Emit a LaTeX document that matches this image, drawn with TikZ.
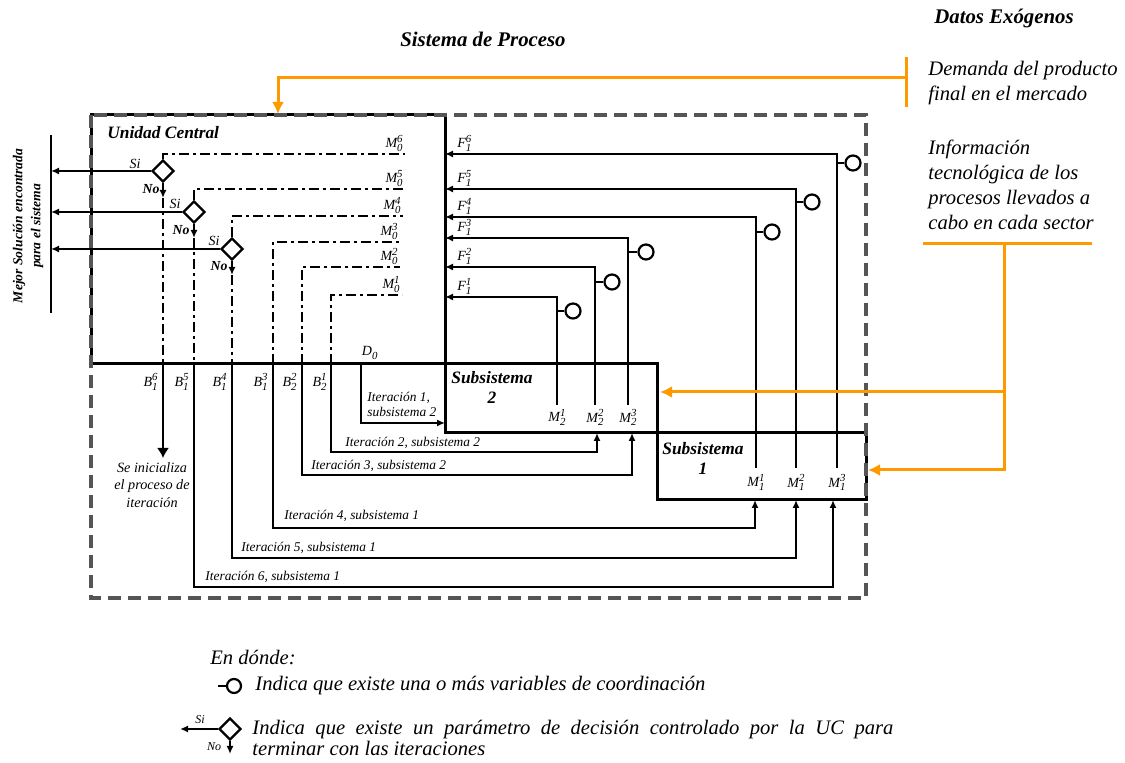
\documentclass[tikz,border=0pt]{standalone}
\usepackage{fontspec}
\setmainfont{Liberation Serif}
\usetikzlibrary{arrows.meta, calc, shapes.geometric}

\definecolor{exoorange}{RGB}{255,153,0}
\definecolor{framegray}{RGB}{85,85,85}

\newcommand{\idx}{\fontsize{5.4}{6}\selectfont}
\newcommand{\vsym}[3]{#1\makebox[0pt][l]{\raisebox{-0.6ex}{\idx #2}}\raisebox{0.85ex}{\idx #3}}

\tikzset{
  box/.style={line width=1.5pt, line cap=rect},
  link/.style={line width=0.9pt},
  feed/.style={line width=0.9pt, -{Latex[length=4pt,width=3.5pt]}},
  mline/.style={line width=0.9pt, dash pattern=on 5pt off 2pt on 1.5pt off 2pt},
  frame/.style={line width=1.7pt, draw=framegray, dash pattern=on 6.5pt off 3.5pt},
  exoline/.style={line width=1.5pt, draw=exoorange},
  exo/.style={exoline, -{Latex[length=6pt,width=6pt]}},
  decision/.style={diamond, draw, line width=1.2pt, inner sep=0pt, minimum size=11pt, aspect=1},
  coordvar/.style={circle, draw, line width=1.1pt, inner sep=0pt, minimum size=7.5pt},
  title/.style={font=\fontsize{10.4}{12}\selectfont\bfseries\itshape, inner sep=0pt},
  unit/.style={font=\fontsize{8.7}{10}\selectfont\bfseries\itshape, inner sep=0pt, align=center},
  note/.style={font=\fontsize{10.3}{12.5}\selectfont\itshape, inner sep=0pt, align=left},
  lbl/.style={font=\fontsize{6.7}{7.5}\selectfont\itshape, inner sep=0pt},
  var/.style={font=\fontsize{7}{8}\selectfont\itshape, inner sep=1pt},
}

\begin{document}
\begin{tikzpicture}[x=0.5pt, y=-0.5pt]
  \useasboundingbox (0,0) rectangle (1125,763);

  % Titles
  \node[title] (sysTitle) at (483,39) {Sistema de Proceso};
  \node[title] (exoTitle) at (1004,18) {Datos Exógenos};

  % Exogenous data
  \node[note, anchor=west] (demand) at (928,83) {Demanda del producto\\final en el mercado};
  \node[note, anchor=west] (techInfo) at (928,185) {Información\\tecnológica de los\\procesos llevados a\\cabo en cada sector};

  % Boxes
  \coordinate (ucNW) at (91,115);
  \coordinate (ucNE) at (445,115);
  \coordinate (ucSW) at (91,364);
  \coordinate (sTwoNE) at (657,364);
  \coordinate (sTwoSW) at (445,433);
  \coordinate (sTwoSE) at (657,433);
  \coordinate (sOneNE) at (866,433);
  \coordinate (sOneSE) at (866,500);
  \coordinate (sOneSW) at (657,500);
  \coordinate (frameSE) at (866,598);
  \draw[box] (ucSW) -- (ucNW) -- (ucNE) -- (sTwoSW) -- (sTwoSE);
  \draw[box] (ucSW) -- (sTwoNE) -- (sTwoSE) -- (sOneNE) -- (sOneSE) -- (sOneSW) -- (sTwoSE);
  \draw[frame] (ucNW) rectangle (frameSE);

  \node[unit, anchor=west] (ucTitle) at (107,133) {Unidad Central};
  \node[unit] (sTwoTitle) at (492,387) {Subsistema\\2};
  \node[unit] (sOneTitle) at (703,458) {Subsistema\\1};

  % Decisions of the central unit
  \node[decision] (dec6) at (163,171) {};
  \node[decision] (dec5) at (194,212) {};
  \node[decision] (dec4) at (232,249) {};

  \coordinate (barTop) at (51,135);
  \coordinate (barBot) at (51,313);
  \draw[link] (barTop) -- (barBot);
  \node[unit, rotate=90, font=\fontsize{6.8}{9}\selectfont\bfseries\itshape] (best) at (28,226) {Mejor Solución encontrada\\para el sistema};

  \draw[feed] (dec6.west) -- (dec6.west -| barTop);
  \draw[feed] (dec5.west) -- (dec5.west -| barTop);
  \draw[feed] (dec4.west) -- (dec4.west -| barTop);
  \node[lbl, font=\fontsize{7}{8}\selectfont\itshape] (si6) at (135,164) {Si};
  \node[lbl, font=\fontsize{7}{8}\selectfont\itshape] (si5) at (175,204) {Si};
  \node[lbl, font=\fontsize{7}{8}\selectfont\itshape] (si4) at (214,241) {Si};
  \node[lbl, font=\fontsize{6.9}{8}\selectfont\bfseries\itshape] (no6) at (151,189) {No};
  \node[lbl, font=\fontsize{6.9}{8}\selectfont\bfseries\itshape] (no5) at (181,230) {No};
  \node[lbl, font=\fontsize{6.9}{8}\selectfont\bfseries\itshape] (no4) at (219,266) {No};

  \coordinate (noEnd6) at (163,198);
  \coordinate (noEnd5) at (194,238);
  \coordinate (noEnd4) at (232,275);
  \draw[feed] (dec6.south) -- (noEnd6);
  \draw[feed] (dec5.south) -- (noEnd5);
  \draw[feed] (dec4.south) -- (noEnd4);

  % Coordination lines M0
  \coordinate (b16) at (163,364);
  \coordinate (b15) at (194,364);
  \coordinate (b14) at (232,364);
  \coordinate (b13) at (273,364);
  \coordinate (b22) at (302,364);
  \coordinate (b21) at (331,364);
  \coordinate (dzero) at (361,364);
  \coordinate (m06) at (405,154);
  \coordinate (m05) at (405,189);
  \coordinate (m04) at (403,216);
  \coordinate (m03) at (400,242);
  \coordinate (m02) at (400,267);
  \coordinate (m01) at (402,295);
  \draw[mline] (dec6.north) |- (m06);
  \draw[mline] (dec5.north) |- (m05);
  \draw[mline] (dec4.north) |- (m04);
  \draw[mline] (b13) |- (m03);
  \draw[mline] (b22) |- (m02);
  \draw[mline] (b21) |- (m01);
  \draw[mline] (noEnd6) -- (b16);
  \draw[mline] (noEnd5) -- (b15);
  \draw[mline] (noEnd4) -- (b14);
  \node[var, anchor=south east] (m06l) at (m06) {\vsym{M}{0}{6}};
  \node[var, anchor=south east] (m05l) at (m05) {\vsym{M}{0}{5}};
  \node[var, anchor=south east] (m04l) at (m04) {\vsym{M}{0}{4}};
  \node[var, anchor=south east] (m03l) at (m03) {\vsym{M}{0}{3}};
  \node[var, anchor=south east] (m02l) at (m02) {\vsym{M}{0}{2}};
  \node[var, anchor=south east] (m01l) at (m01) {\vsym{M}{0}{1}};

  % Feedback F1 from the subsystems
  \coordinate (f16) at (445,154);
  \coordinate (f15) at (445,189);
  \coordinate (f14) at (445,217);
  \coordinate (f13) at (445,238);
  \coordinate (f12) at (445,267);
  \coordinate (f11) at (445,297);
  \coordinate (m13) at (837,468);
  \coordinate (m12) at (796,468);
  \coordinate (m11) at (756,468);
  \coordinate (m23) at (628,405);
  \coordinate (m22) at (595,405);
  \coordinate (m21) at (557,405);
  \draw[feed] (m13) |- (f16);
  \draw[feed] (m12) |- (f15);
  \draw[feed] (m11) |- (f14);
  \draw[feed] (m23) |- (f13);
  \draw[feed] (m22) |- (f12);
  \draw[feed] (m21) |- (f11);
  \node[var, anchor=south west, xshift=5pt] (f16l) at (f16) {\vsym{F}{1}{6}};
  \node[var, anchor=south west, xshift=5pt] (f15l) at (f15) {\vsym{F}{1}{5}};
  \node[var, anchor=south west, xshift=5pt] (f14l) at (f14) {\vsym{F}{1}{4}};
  \node[var, anchor=south west, xshift=5pt] (f13l) at (f13) {\vsym{F}{1}{3}};
  \node[var, anchor=south west, xshift=5pt] (f12l) at (f12) {\vsym{F}{1}{2}};
  \node[var, anchor=south west, xshift=5pt] (f11l) at (f11) {\vsym{F}{1}{1}};

  \node[coordvar] (cv6) at (853,163) {};
  \node[coordvar] (cv5) at (812,202) {};
  \node[coordvar] (cv4) at (772,232) {};
  \node[coordvar] (cv3) at (646,252) {};
  \node[coordvar] (cv2) at (612,282) {};
  \node[coordvar] (cv1) at (573,311) {};
  \draw[link] (cv6.west) -- (cv6.west -| m13);
  \draw[link] (cv5.west) -- (cv5.west -| m12);
  \draw[link] (cv4.west) -- (cv4.west -| m11);
  \draw[link] (cv3.west) -- (cv3.west -| m23);
  \draw[link] (cv2.west) -- (cv2.west -| m22);
  \draw[link] (cv1.west) -- (cv1.west -| m21);

  \node[var, anchor=north, yshift=-2pt] (m13l) at (m13) {\vsym{M}{1}{3}};
  \node[var, anchor=north, yshift=-2pt] (m12l) at (m12) {\vsym{M}{1}{2}};
  \node[var, anchor=north, yshift=-2pt] (m11l) at (m11) {\vsym{M}{1}{1}};
  \node[var, anchor=north, yshift=-1pt] (m23l) at (m23) {\vsym{M}{2}{3}};
  \node[var, anchor=north, yshift=-1pt] (m22l) at (m22) {\vsym{M}{2}{2}};
  \node[var, anchor=north, yshift=-1pt] (m21l) at (m21) {\vsym{M}{2}{1}};

  % Iterations
  \coordinate (startEnd) at (163,458);
  \draw[line width=0.9pt, -{Latex[length=5pt,width=6pt]}] (b16) -- (startEnd);
  \node[lbl, align=center, font=\fontsize{7.1}{8.6}\selectfont\itshape] (startl) at (152,485) {Se inicializa\\el proceso de\\iteración};

  \coordinate (sTwoIn) at (445,423);
  \coordinate (it2) at (597,452);
  \coordinate (it3) at (632,475);
  \coordinate (it4) at (755,528);
  \coordinate (it5) at (796,558);
  \coordinate (it6) at (833,587);
  \coordinate (m22in) at (597,433);
  \coordinate (m23in) at (632,433);
  \coordinate (m11in) at (755,500);
  \coordinate (m12in) at (796,500);
  \coordinate (m13in) at (833,500);
  \draw[feed] (dzero) |- (sTwoIn);
  \draw[feed] (b21) |- (it2) -- (m22in);
  \draw[feed] (b22) |- (it3) -- (m23in);
  \draw[feed] (b13) |- (it4) -- (m11in);
  \draw[feed] (b14) |- (it5) -- (m12in);
  \draw[feed] (b15) |- (it6) -- (m13in);

  \node[lbl, anchor=west, align=left] (it1l) at (367,404) {Iteración 1,\\subsistema 2};
  \node[lbl, anchor=west] (it2l) at (345,443) {Iteración 2, subsistema 2};
  \node[lbl, anchor=west] (it3l) at (311,466) {Iteración 3, subsistema 2};
  \node[lbl, anchor=west] (it4l) at (284,516) {Iteración 4, subsistema 1};
  \node[lbl, anchor=west] (it5l) at (241,548) {Iteración 5, subsistema 1};
  \node[lbl, anchor=west] (it6l) at (205,577) {Iteración 6, subsistema 1};

  \node[var, anchor=east] (b16l) at (160,382) {\vsym{B}{1}{6}};
  \node[var, anchor=east] (b15l) at (191,382) {\vsym{B}{1}{5}};
  \node[var, anchor=east] (b14l) at (229,382) {\vsym{B}{1}{4}};
  \node[var, anchor=east] (b13l) at (270,382) {\vsym{B}{1}{3}};
  \node[var, anchor=east] (b22l) at (299,382) {\vsym{B}{2}{2}};
  \node[var, anchor=east] (b21l) at (329,382) {\vsym{B}{2}{1}};
  \node[var] (d0l) at (367,353) {\vsym{D}{0}{}};

  % Exogenous arrows
  \coordinate (tickTop) at (906,57);
  \coordinate (tickBot) at (906,107);
  \coordinate (demandFeed) at (906,78);
  \coordinate (ucIn) at (278,114);
  \draw[exoline] (tickTop) -- (tickBot);
  \draw[exo] (demandFeed) -| (ucIn);
  \coordinate (barL) at (923,244);
  \coordinate (barR) at (1092,244);
  \coordinate (techFeed) at (1004,244);
  \coordinate (sTwoRight) at (660,392);
  \coordinate (sOneRight) at (868,470);
  \draw[exoline] (barL) -- (barR);
  \draw[exo] (techFeed) |- (sOneRight);
  \draw[exo] (techFeed |- sTwoRight) -- (sTwoRight);

  % Legend
  \node[note, anchor=west] (where) at (210,657) {En dónde:};
  \coordinate (legStub) at (218,686);
  \node[coordvar, minimum size=7pt] (legCirc) at (234,686) {};
  \draw[link, line width=1.1pt] (legStub) -- (legCirc.west);
  \node[note, anchor=west] (legCircText) at (255,686) {Indica que existe una o más variables de coordinación};
  \node[decision] (legDec) at (230,729) {};
  \coordinate (legSi) at (180,729);
  \coordinate (legNo) at (230,754);
  \draw[feed] (legDec.west) -- (legSi);
  \draw[feed] (legDec.south) -- (legNo);
  \node[lbl, font=\fontsize{6}{7}\selectfont\itshape] (legSil) at (200,720) {Si};
  \node[lbl, font=\fontsize{6}{7}\selectfont\itshape] (legNol) at (214,747) {No};
  \node[note, anchor=west, text width=320.5pt, align=justify, font=\fontsize{10.3}{10.5}\selectfont\itshape] (legDecText) at (252,738) {Indica que existe un parámetro de decisión controlado por la UC para\linebreak terminar con las iteraciones};
\end{tikzpicture}
\end{document}
